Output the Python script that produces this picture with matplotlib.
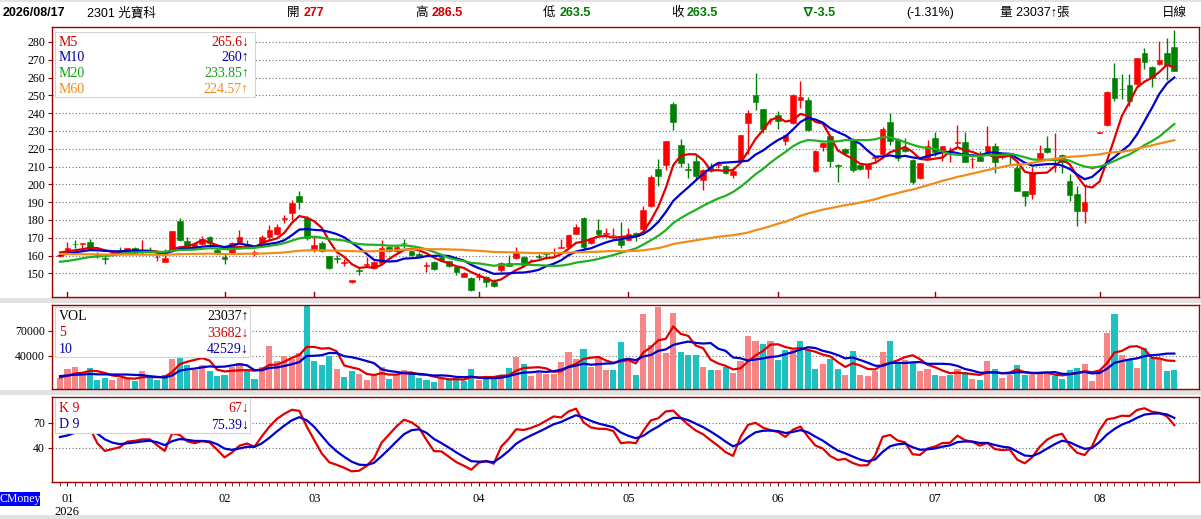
import numpy as np
import pandas as pd
import matplotlib
matplotlib.use("Agg")
import matplotlib.pyplot as plt
from matplotlib.patches import Rectangle

plt.rcParams['font.family'] = ['Liberation Sans', 'Noto Sans CJK TC', 'DejaVu Sans']
SERIF = ['Liberation Serif', 'Noto Sans CJK TC', 'DejaVu Sans']

# ---- data ----
# closes before the first visible day, only used to start the moving averages
pre_close = [166, 168, 170, 167, 165, 163, 161, 160, 162, 164,
             166, 165, 163, 161, 159, 158, 160, 162, 164, 166,
             168, 167, 165, 164, 162, 161, 163, 165, 166, 164,
             162, 160, 159, 161, 163, 164, 162, 160, 158, 157,
             155, 153, 151, 150, 152, 154, 151, 150, 153, 158,
             157, 159, 160, 158, 160.5, 161, 163, 164, 160]
pre_vol = [16500, 17800, 16200, 17500, 17000, 14200, 13500, 13900, 13600]

opens = [160, 161.5, 166.5, 166.6, 167.8, 161, 158.5, 160.5, 163, 162,
         164.5, 161.8, 163, 159, 156.6, 163, 179.5, 168, 164, 166.5,
         170.5, 163, 159, 161.3, 167.5, 166.5, 161, 166, 170.5, 172,
         180.5, 184, 193.5, 181, 163, 167, 159.8, 158.7, 156, 145,
         152, 154.4, 153, 155.7, 164.6, 162.5, 167, 162.5, 161, 154.2,
         156.3, 159.3, 156.8, 153.3, 148.2, 147.6, 148, 148.2, 145.4, 152.1,
         156, 158.4, 159.3, 156.8, 159.5, 161.3, 161.8, 164.3, 165, 172.2,
         181.3, 166.8, 174.2, 172.2, 171.3, 169, 169, 172.5, 175, 188,
         208.4, 210.7, 245, 222, 208.5, 213, 202.4, 210, 211, 210.3,
         205, 213, 234.3, 250, 242.2, 235.4, 238.8, 224.4, 234.7, 247.5,
         247.4, 207.5, 221.2, 227.2, 210.5, 220, 225.3, 210.7, 208.8, 215,
         216.8, 235, 225.7, 220.6, 213.7, 203.4, 214.6, 225.9, 218.4, 218.2,
         223.5, 224, 214, 215.6, 218.8, 221.6, 215.5, 217.1, 209, 196,
         194.4, 214.6, 220.6, 213.5, 216.5, 202.1, 194.6, 185, 209, 229,
         233.4, 260, 253.5, 255.8, 256.2, 273.6, 266.1, 267.5, 274, 277]
highs = [161, 167.5, 168.5, 167, 169.5, 162, 159.5, 162, 165, 164.5,
         165, 168.8, 165, 161.5, 163.5, 174, 181, 170.5, 167, 171,
         171, 164, 161.5, 167.5, 174.5, 168.5, 163, 171.5, 177, 177.5,
         183, 191, 196.5, 182, 170.5, 168, 160, 160.3, 158, 146.3,
         153, 159, 157, 168.5, 165.5, 165.5, 169.5, 163, 162, 156.5,
         157, 159.5, 157, 153.5, 151, 148, 150, 148.5, 147, 156.5,
         160.5, 165, 160, 158, 161, 162, 164, 169.5, 172, 177.5,
         181.5, 170, 180.5, 175.5, 175.5, 179, 175.5, 173, 188, 205,
         214.4, 224.5, 246.3, 225.3, 212.2, 217.2, 208.5, 212, 212, 211,
         209, 228, 241.7, 262.4, 242.5, 237, 241.2, 228, 250.5, 258,
         248.8, 219.5, 223.5, 227.5, 211.2, 220.5, 226, 211, 211, 216,
         232, 240, 226, 226, 214.5, 212, 225, 229.2, 221.6, 221.2,
         233.4, 229.6, 215.6, 218.5, 233, 223, 217, 217.5, 213, 196.5,
         209.5, 222, 227, 228.7, 217, 206, 199, 199, 209.5, 229.6,
         252.3, 268, 261.8, 261.8, 271, 276.8, 266.5, 280.6, 282, 286.5]
lows = [159, 161, 164, 163, 163, 158.5, 155.5, 160, 161, 161,
        161, 161, 161.5, 157, 156.5, 162, 168, 163, 163.5, 166,
        166, 161, 155.5, 161, 167, 164.5, 160, 165.5, 169, 171.5,
        178, 180, 186, 169, 162, 162, 152.5, 156, 154, 144.3,
        149, 154, 152.5, 155.5, 162, 162, 164.5, 160, 159, 151,
        152, 157, 153.5, 149, 148, 139.8, 146.5, 142.5, 142.3, 151,
        154, 158, 154.5, 156.5, 158, 158, 160, 164, 164, 172,
        163, 166.5, 170.5, 170.5, 171, 164.5, 168.5, 168, 174, 187,
        199, 208, 230.5, 210, 203.7, 203, 197, 207, 209, 206,
        203.5, 212.5, 217, 241.5, 229, 234, 230.9, 222, 234, 243,
        230, 207, 219, 210, 201.3, 217, 207, 208, 203.5, 212,
        216.5, 222, 213, 218, 200, 203, 214, 216, 213, 212.8,
        221.8, 212.5, 209, 213, 217, 206.5, 214, 211.3, 196, 187.8,
        192, 214, 217.5, 207, 206.5, 190.6, 176.6, 178.5, 208.8, 228.8,
        233, 246.9, 248, 244, 256, 265, 254.9, 267, 258.4, 263.5]
closes = [160.5, 164, 166.3, 167, 164, 159.5, 158, 161.5, 161.8, 164,
          162.5, 163, 162.5, 159.3, 158.5, 174, 169, 164.5, 166.5, 169.5,
          167, 161.5, 158, 167.2, 170.5, 165, 161.8, 170.5, 174.5, 176,
          181, 189.5, 189.8, 170, 166, 162.5, 153, 158.3, 156.3, 146,
          151.5, 155.5, 156.3, 164.4, 162.5, 165, 166.8, 160.5, 159.5, 154.7,
          152.7, 157.4, 154, 151, 150.1, 140.7, 148.4, 145.4, 142.6, 156,
          154.2, 161.2, 154.8, 157.1, 159.2, 161, 162.2, 164.7, 171.6, 176,
          164.6, 169.5, 172, 172.6, 171.8, 166, 172, 171, 185.5, 204,
          204.7, 224.4, 235.2, 212, 208.2, 204.7, 207.8, 207.5, 211.3, 206.5,
          207.5, 227.5, 240, 246, 231.3, 235.7, 235.6, 227.7, 250, 248.8,
          230.4, 218.7, 223, 213.1, 210.3, 217.8, 208, 208.4, 210.7, 215.5,
          231.3, 224.4, 215, 218.7, 201.5, 211.8, 221.8, 218.4, 221.6, 218.6,
          223.9, 212.8, 214.3, 213.1, 221.8, 212.8, 215.8, 217, 196.5, 193.5,
          207.2, 217.8, 218, 214, 212.8, 194, 185, 189.9, 209.3, 229.5,
          252.1, 248.7, 253.3, 246.9, 270.8, 268.6, 259.6, 269.7, 267, 263.5]
volume = [13800, 24500, 26800, 18600, 25700, 11400, 13800, 11400, 13800, 13800,
          9100, 22100, 13800, 11400, 17400, 36300, 70000, 28400, 22500, 28400,
          21300, 15800, 17400, 26400, 31200, 22500, 12600, 26400, 51700, 33200,
          39500, 36300, 43400, 100000, 33200, 29200, 39500, 24500, 15000, 21300,
          18600, 11400, 17400, 26400, 12600, 18600, 23300, 18600, 13800, 11400,
          7900, 13800, 11400, 13800, 9100, 24500, 10700, 13800, 13800, 17400,
          25700, 38700, 30400, 16200, 19700, 18600, 18600, 32400, 45000, 36300,
          48200, 26000, 37100, 23300, 22500, 56800, 34300, 16600, 89600, 52900,
          98700, 43400, 90800, 45000, 41000, 41000, 26400, 22500, 22500, 26400,
          19700, 33200, 63900, 57600, 54100, 57600, 35100, 47400, 47400, 57600,
          47400, 23700, 30400, 36300, 24500, 17400, 45800, 17400, 15400, 21300,
          45000, 57600, 32400, 35100, 32400, 21300, 24500, 17400, 15400, 16600,
          24500, 20500, 12600, 10300, 33200, 24500, 13800, 17400, 28400, 16600,
          16600, 18600, 18600, 15400, 12600, 22500, 25700, 30400, 9500, 22500,
          66980, 89600, 40300, 34300, 25700, 49000, 37000, 37500, 21873, 23037]

# trading days per month shown (last day of Dec, then Jan..Aug)
month_days = [1, 21, 12, 22, 20, 20, 21, 22, 11]
month_labels = ['01', '02', '03', '04', '05', '06', '07', '08']

ma_names = ['M5', 'M10', 'M20', 'M60']
ma_windows = [5, 10, 20, 60]
ma_texts = ['265.6\u2193', '260\u2191', '233.85\u2191', '224.57\u2191']
vol_names = ['VOL', '5', '10']
vol_texts = ['23037\u2191', '33682\u2193', '42529\u2193']
kd_names = ['K 9', 'D 9']
kd_texts = ['67\u2193', '75.39\u2193']

# ---- derived series ----
o = np.array(opens); h = np.array(highs); l = np.array(lows); c = np.array(closes)
v = np.array(volume, dtype=float)
n = len(c)
idx = np.arange(n)

all_c = pd.Series(pre_close + closes)
mas = [all_c.rolling(w).mean().values[len(pre_close):] for w in ma_windows]
all_v = pd.Series(pre_vol + volume, dtype=float)
vma5 = all_v.rolling(5).mean().values[len(pre_vol):]
vma10 = all_v.rolling(10).mean().values[len(pre_vol):]

hh = pd.Series(h).rolling(9, min_periods=1).max().values
ll = pd.Series(l).rolling(9, min_periods=1).min().values
rsv = (c - ll) / (hh - ll) * 100
K = np.zeros(n); D = np.zeros(n)
k_prev, d_prev = 50.0, 50.0
for i in range(n):
    k_prev = k_prev * 2 / 3 + rsv[i] / 3
    d_prev = d_prev * 2 / 3 + k_prev / 3
    K[i], D[i] = k_prev, d_prev

prev_c = np.concatenate([[pre_close[-1]], c[:-1]])
vol_up = c >= prev_c
month_start = np.cumsum(month_days)[:-1]

# ---- colours ----
RED = '#ff0000'
GREEN = '#008000'
FRAME = '#990000'
MA_COLORS = ['#e00000', '#0000cc', '#20b020', '#f08c1c']
LEG_COLORS = ['#cc0000', '#0000aa', '#10a010', '#f08c1c']
VOL_RED = '#f88585'
VOL_TEAL = '#1ec0c0'

W, H = 1201, 519
fig = plt.figure(figsize=(W / 100, H / 100), dpi=100)
fig.patch.set_facecolor('white')


def fx(px):
    return px / W


def fy(py):
    return 1 - py / H


def panel(x0, y0, x1, y1):
    ax = fig.add_axes([fx(x0), fy(y1), fx(x1) - fx(x0), fy(y0) - fy(y1)])
    for s in ax.spines.values():
        s.set_color(FRAME)
        s.set_linewidth(1.0)
    ax.set_xlim(-1.07, 152.3)
    ax.set_xticks([])
    ax.tick_params(axis='y', length=3, color=FRAME, pad=2, labelsize=8.5)
    return ax


def grid(ax, levels):
    for g in levels:
        ax.axhline(g, color='#707070', lw=0.8, ls=(0, (1, 2)), zorder=0)


def box(x0, y0, x1, y1):
    fig.add_artist(Rectangle((fx(x0), fy(y1)), fx(x1) - fx(x0), fy(y0) - fy(y1),
                             transform=fig.transFigure, facecolor='white',
                             edgecolor='#d4d4d4', lw=0.8, zorder=5))


def ftext(x, y, s, **kw):
    kw.setdefault('fontsize', 9)
    kw.setdefault('va', 'center')
    fig.text(fx(x), fy(y), s, zorder=6, **kw)


# grey separator strips
for y0, y1 in [(0, 2), (298, 303), (390, 395), (515, 519)]:
    fig.add_artist(Rectangle((0, fy(y1)), 1, fy(y0) - fy(y1), transform=fig.transFigure,
                             facecolor='#e2e2e2', edgecolor='none', zorder=-1))

# ---- price panel ----
ax = panel(52, 27, 1199, 297)
ax.set_ylim(136.7, 288.4)
ticks = list(range(150, 290, 10))
ax.set_yticks(ticks)
ax.set_yticklabels([str(t) for t in ticks], family=SERIF)
grid(ax, ticks)
cols = np.where(c >= o, RED, GREEN)
ax.vlines(idx, l, h, colors=cols, lw=1.0, zorder=2)
body = np.maximum(np.abs(c - o), 0.35)
ax.bar(idx, body, bottom=np.minimum(o, c), width=0.76, color=cols,
       edgecolor=cols, lw=0.4, zorder=2)
for ma, col in zip(mas, MA_COLORS):
    ax.plot(idx, ma, color=col, lw=1.6, zorder=3)
for m in month_start:
    ax.plot([m, m], [136.7, 136.7 + 5 / 1.78], color=FRAME, lw=1, zorder=4)

box(55, 32, 255, 97)
for k, (name, txt) in enumerate(zip(ma_names, ma_texts)):
    y = 42 + k * 15.7
    ftext(59, y, name, color=LEG_COLORS[k], family=SERIF, fontsize=10)
    ftext(249, y, txt, color=LEG_COLORS[k], family=SERIF, fontsize=10, ha='right')

# ---- volume panel ----
axv = panel(52, 305, 1199, 389)
axv.set_ylim(0, 100800)
axv.set_yticks([40000, 70000])
axv.set_yticklabels(['40000', '70000'], family=SERIF)
grid(axv, [40000, 70000])
axv.bar(idx, v, width=0.82, color=np.where(vol_up, VOL_RED, VOL_TEAL), zorder=2)
axv.plot(idx, vma5, color='#e00000', lw=1.6, zorder=3)
axv.plot(idx, vma10, color='#0000cc', lw=1.6, zorder=3)

box(55, 307, 250, 357)
vol_cols = ['black', '#cc0000', '#0000aa']
for k, (name, txt) in enumerate(zip(vol_names, vol_texts)):
    y = 316.5 + k * 16.5
    ftext(59, y, name, color=vol_cols[k], family=SERIF, fontsize=10)
    ftext(249, y, txt, color=vol_cols[k], family=SERIF, fontsize=10, ha='right')

# ---- KD panel ----
axk = panel(52, 397, 1199, 482)
axk.set_ylim(-1.2, 100.8)
axk.set_yticks([40, 70])
axk.set_yticklabels(['40', '70'], family=SERIF)
grid(axk, [40, 70])
axk.plot(idx, K, color='#e00000', lw=1.6, zorder=3)
axk.plot(idx, D, color='#0000cc', lw=1.6, zorder=3)
axk.set_xticks(idx, minor=True)
axk.set_xticks(month_start)
axk.set_xticklabels(month_labels, family=SERIF, fontsize=9)
axk.tick_params(axis='x', which='both', length=3, color=FRAME, pad=5)

box(55, 398, 250, 433)
for k, (name, txt) in enumerate(zip(kd_names, kd_texts)):
    y = 408.3 + k * 16.7
    ftext(59, y, name, color=vol_cols[k + 1], family=SERIF, fontsize=10)
    ftext(249, y, txt, color=vol_cols[k + 1], family=SERIF, fontsize=10, ha='right')

ftext(67, 512, '2026', family=SERIF, ha='center')
fig.add_artist(Rectangle((0, fy(506)), fx(40), fy(492) - fy(506), transform=fig.transFigure,
                         facecolor='#0000ff', edgecolor='none', zorder=5))
ftext(20, 499, 'CMoney', color='white', family=SERIF, fontsize=8.5, ha='center')

# ---- header ----
hdr = [
    (3, '2026/08/17', 'black', 'bold'),
    (87, '2301 光寶科', 'black', 'normal'),
    (287, '開', 'black', 'normal'), (304, '277', '#d00000', 'bold'),
    (415, '高', 'black', 'normal'), (432, '286.5', '#d00000', 'bold'),
    (543, '低', 'black', 'normal'), (560, '263.5', '#007a00', 'bold'),
    (671, '收', 'black', 'normal'), (687, '263.5', '#007a00', 'bold'),
    (801, '\u2207-3.5', '#007a00', 'bold'),
    (906, '(-1.31%)', 'black', 'normal'),
    (1000, '量 23037\u2191張', 'black', 'normal'),
    (1162, '日線', 'black', 'normal'),
]
for x, s, col, wt in hdr:
    ftext(x, 13, s, color=col, fontweight=wt, fontsize=9)

fig.savefig('out.png', dpi=100)
